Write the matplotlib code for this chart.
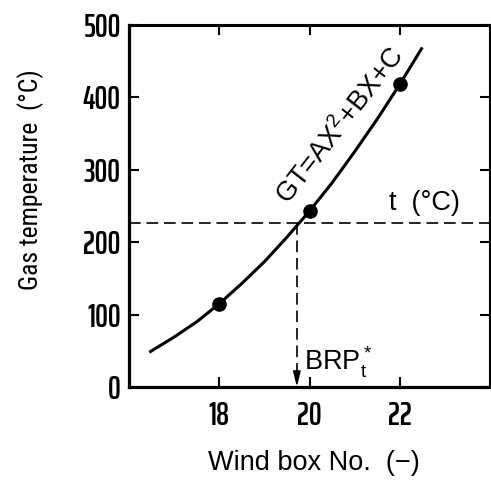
import matplotlib
matplotlib.use("Agg")
import matplotlib.pyplot as plt

# measured wind boxes
box_no = [18, 20, 22]
gas_temp = [115, 243, 418]

# fitted curve GT = AX^2 + BX + C
curve_x = [16.45, 17.0, 17.5, 18.0, 18.5, 19.0, 19.5, 20.0, 20.5, 21.0, 21.5, 22.0, 22.5]
curve_y = [48, 69, 90, 115, 143, 173, 207, 243, 282, 325, 370, 418, 469]

t_level = 226
brp_x = 19.72

x_ticks = [18, 20, 22]
y_ticks = [0, 100, 200, 300, 400, 500]

TICK_FONT = ["Saira ExtraCondensed", "Pathway Gothic One", "Roboto Condensed", "DejaVu Sans"]
TEXT_FONT = ["Liberation Sans", "DejaVu Sans"]
NARROW_FONT = ["Roboto Condensed", "Liberation Sans", "DejaVu Sans"]

plt.rcParams["font.family"] = TEXT_FONT
plt.rcParams["mathtext.fontset"] = "custom"
plt.rcParams["mathtext.rm"] = "Liberation Sans"
plt.rcParams["mathtext.it"] = "Liberation Sans:italic"
plt.rcParams["mathtext.bf"] = "Liberation Sans:bold"

fig = plt.figure(figsize=(4.91, 4.80), dpi=100)
fig.patch.set_facecolor("white")
ax = fig.add_axes([129 / 491, 93 / 480, 361 / 491, 362 / 480])

ax.plot(curve_x, curve_y, color="black", linewidth=2.2, solid_capstyle="butt")
ax.plot(box_no, gas_temp, "o", color="black", markersize=9.5)

dash = (0, (7, 3.5))
ax.axhline(t_level, color="black", linewidth=1.2, linestyle=dash)
ax.plot([brp_x, brp_x], [t_level, 14], color="black", linewidth=1.2, linestyle=dash)
ax.annotate("", xy=(brp_x, 0), xytext=(brp_x, 16),
            arrowprops=dict(arrowstyle="-|>,head_length=0.9,head_width=0.22",
                            color="black", linewidth=1.2, shrinkA=0, shrinkB=0))

ax.set_xlim(16, 24)
ax.set_ylim(0, 500)
ax.set_xticks(x_ticks)
ax.set_yticks(y_ticks)
ax.tick_params(direction="in", top=True, right=True, length=7, width=1.5,
               labelsize=23)
ax.tick_params(axis="y", pad=6)
ax.tick_params(axis="x", pad=10)
for lbl in ax.get_yticklabels() + ax.get_xticklabels():
    lbl.set_family(TICK_FONT)
    lbl.set_fontweight(600)

for side, lw in [("left", 2.3), ("bottom", 2.3), ("top", 2.2), ("right", 1.5)]:
    ax.spines[side].set_linewidth(lw)

ax.set_xlabel("Wind box No.  (\u2212)", fontsize=19.5)
ax.xaxis.set_label_coords(0.512, -0.175)
ax.set_ylabel("Gas temperature  (\u00b0C)", fontsize=18.5, family=NARROW_FONT)
ax.yaxis.set_label_coords(-0.235, 0.572)

ax.text(20.68, 360, "GT=AX$^2$+BX+C", fontsize=19.5, rotation=52,
        ha="center", va="center")
ax.text(21.76, 254, "t  (\u00b0C)", fontsize=19.5, ha="left", va="center")
ax.text(19.88, 23, "BRP$_\\mathrm{t}^*$", fontsize=19.5, ha="left", va="baseline")

fig.savefig("out.png", dpi=100, facecolor="white")
